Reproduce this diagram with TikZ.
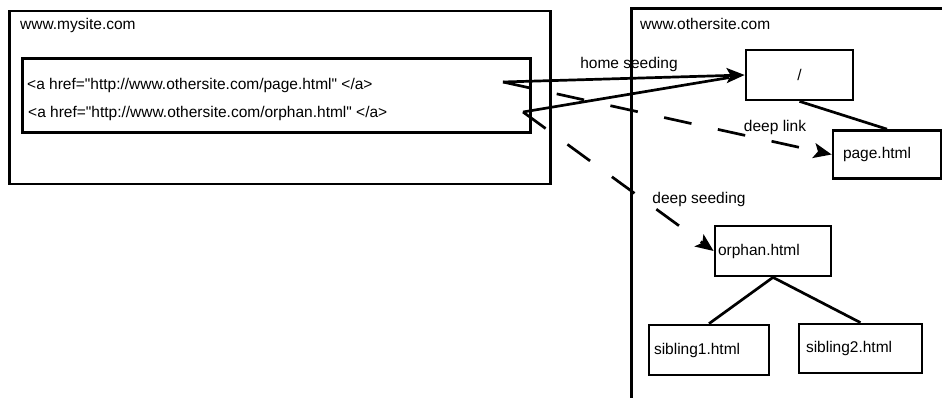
\documentclass[tikz,border=0pt]{standalone}
\usepackage{fontspec}
\setmainfont{Liberation Sans}[Ligatures=TeXOff]
\usetikzlibrary{arrows.meta}
\begin{document}
\begin{tikzpicture}[x=1pt,y=-1pt,
  every node/.style={font=\fontsize{15.5}{18}\selectfont},
  lw/.style={line width=2.7pt},
  box/.style={lw, draw, rectangle, inner ysep=0pt, minimum height=#1, align=left},
  txt/.style={inner sep=0pt, anchor=west},
  lbl/.style={inner sep=0pt},
  head/.style={-{Stealth[length=18pt,width=15pt,inset=4pt]}},
  dashlink/.style={lw, head, dash pattern=on 28pt off 27pt},
  tree/.style={lw}]
\useasboundingbox (0,0) rectangle (942,397);
\fill[white] (0,0) rectangle (942,397);
% sites
\node[lw, draw, rectangle, minimum width=541pt, minimum height=173pt, anchor=north west, inner sep=0pt] (mysite) at (8,9.5) {};
\node[txt] (mysitelbl) at (20,25) {www.mysite.com};
\node[lw, draw, rectangle, minimum width=508pt, minimum height=74pt, anchor=north west, inner sep=0pt] (links) at (21,57) {};
\node[txt] (l1) at (27,85) {<a href="http://www.othersite.com/page.html" </a>};
\node[txt] (l2) at (28,113) {<a href="http://www.othersite.com/orphan.html" </a>};
\coordinate (obl) at (631.5,400);
\coordinate (otl) at (631.5,8.5);
\coordinate (otr) at (945,8.5);
\draw[lw] (obl) -- (otl) -- (otr);
\node[txt] (otherlbl) at (640,24) {www.othersite.com};
% pages
\node[box=50pt, minimum width=107pt, align=center] (root) at (799.5,75) {/};
\node[box=48pt, text width=88pt, inner xsep=10pt] (page) at (887,154.5) {page.html};
\node[box=50pt, text width=110pt, inner xsep=3pt] (orphan) at (773,251) {orphan.html};
\node[box=50pt, text width=110pt, inner xsep=5pt] (sib1) at (709,350) {sibling1.html};
\node[box=49pt, text width=109pt, inner xsep=7pt] (sib2) at (860.5,348.5) {sibling2.html};
% tree
\draw[tree] (root.south) -- (page.north);
\draw[tree] (orphan.south) -- (sib1.north);
\draw[tree] (orphan.south) -- (sib2.north);
% links
\coordinate (s1) at (503,82);
\coordinate (s2) at (523,112);
\draw[lw, head] (s1) -- (root.west);
\draw[lw, shorten >=16pt] (s2) -- (root.west);
\draw[dashlink] (s1) -- (page.west);
\draw[dashlink] (s2) -- (orphan.west);
% labels
\node[lbl] (hs) at (629,64) {home seeding};
\node[lbl] (dl) at (775,127) {deep link};
\node[lbl] (ds) at (699,199) {deep seeding};
\end{tikzpicture}
\end{document}
